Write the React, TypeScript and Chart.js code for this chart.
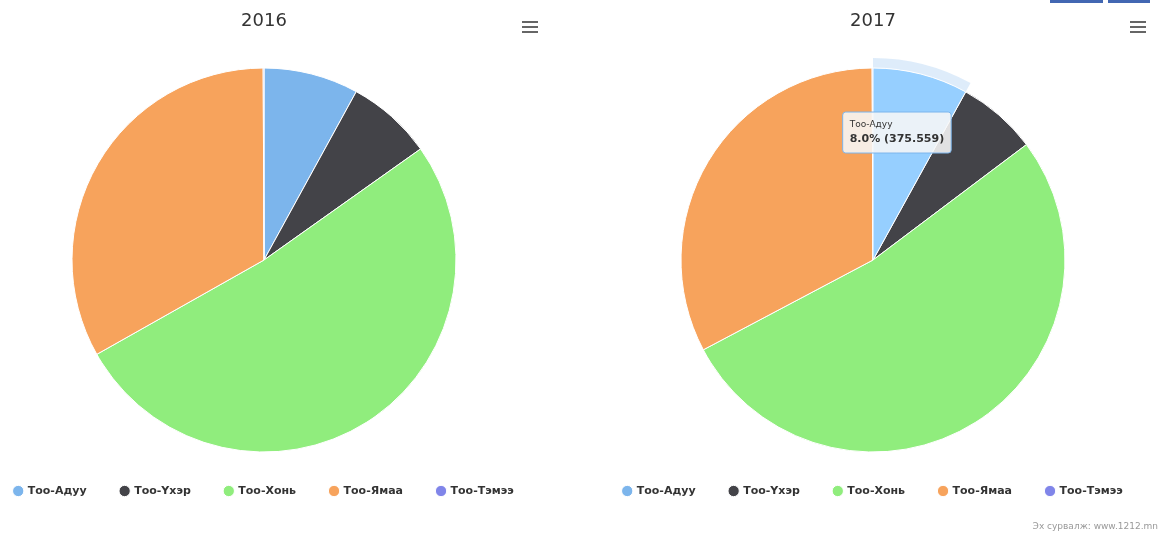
import React, { useEffect, useRef } from "react";
import { Chart, registerables } from "chart.js";

Chart.register(...registerables);

const categories = ["Тоо-Адуу", "Тоо-Үхэр", "Тоо-Хонь", "Тоо-Ямаа", "Тоо-Тэмээ"];
const values2016 = [360.2, 325.1, 2331.4, 1494.6, 3.1];
const values2017 = [375.559, 314.6, 2459.5, 1530.3, 3.4];
const years = ["2016", "2017"];
const colors = ["#7cb5ec", "#434348", "#90ed7d", "#f7a35c", "#8085e9"];
const hoverColors = ["#96cfff", "#5d5d62", "#aaff97", "#ffbd76", "#9a9fff"];
const creditText = "Эх сурвалж: www.1212.mn";

const FONT = "'DejaVu Sans', 'Liberation Sans', sans-serif";
const CW = 580;

const haloPlugin = {
  id: "halo",
  beforeDatasetsDraw(chart: any) {
    const active = chart.getActiveElements();
    if (!active || !active.length) return;
    const ctx = chart.ctx;
    active.forEach((a: any) => {
      const el = a.element;
      const p = el.getProps(["x", "y", "startAngle", "endAngle", "outerRadius"], true);
      ctx.save();
      ctx.beginPath();
      ctx.arc(p.x, p.y, p.outerRadius + 10, p.startAngle, p.endAngle);
      ctx.arc(p.x, p.y, p.outerRadius, p.endAngle, p.startAngle, true);
      ctx.closePath();
      ctx.fillStyle = "rgba(124,181,236,0.25)";
      ctx.fill();
      ctx.restore();
    });
  },
};

function PieChart({ title, values, showTooltip }: { title: string; values: number[]; showTooltip: boolean }) {
  const ref = useRef<HTMLCanvasElement | null>(null);
  useEffect(() => {
    if (!ref.current) return;
    const total = values.reduce((a, b) => a + b, 0);
    const chart = new Chart(ref.current, {
      type: "pie",
      data: {
        labels: categories,
        datasets: [
          {
            data: values,
            backgroundColor: colors,
            hoverBackgroundColor: hoverColors,
            borderColor: "#ffffff",
            hoverBorderColor: "#ffffff",
            borderWidth: 1,
            hoverOffset: 0,
            radius: 192,
          } as any,
        ],
      },
      options: {
        responsive: false,
        maintainAspectRatio: false,
        animation: false,
        devicePixelRatio: 1,
        events: [],
        layout: { padding: { top: 0, bottom: 31.5, left: 0, right: 0 } },
        plugins: {
          title: {
            display: true,
            text: title,
            color: "#333333",
            font: { family: FONT, size: 18, weight: "normal" },
            padding: { top: 10.7, bottom: 36.2 },
          },
          legend: {
            position: "bottom",
            labels: {
              usePointStyle: true,
              pointStyle: "circle",
              boxWidth: 8,
              boxHeight: 8,
              padding: 34,
              color: "#333333",
              font: { family: FONT, size: 11, weight: "bold" },
            },
          },
          tooltip: {
            enabled: showTooltip,
            backgroundColor: "rgba(247,247,247,0.88)",
            borderColor: "#7cb5ec",
            borderWidth: 1,
            cornerRadius: 3,
            caretSize: 0,
            caretPadding: 14,
            yAlign: "bottom",
            xAlign: "center",
            displayColors: false,
            padding: { top: 7, bottom: 7, left: 7, right: 7 },
            titleColor: "#333333",
            titleFont: { family: FONT, size: 9, weight: "normal" },
            titleMarginBottom: 3,
            bodyColor: "#333333",
            bodyFont: { family: FONT, size: 11, weight: "bold" },
            callbacks: {
              title: (items: any[]) => (items.length ? items[0].label : ""),
              label: (item: any) => {
                const v = item.raw as number;
                return `${((v / total) * 100).toFixed(1)}% (${v.toFixed(3)})`;
              },
            },
          },
        },
      } as any,
      plugins: [haloPlugin],
    });
    if (showTooltip) {
      const act = [{ datasetIndex: 0, index: 0 }];
      chart.setActiveElements(act);
      const el: any = chart.getDatasetMeta(0).data[0];
      const pos = el.tooltipPosition();
      chart.tooltip!.setActiveElements(act, { x: pos.x, y: pos.y });
      chart.update();
    }
    return () => chart.destroy();
  }, [title, values, showTooltip]);
  return <canvas ref={ref} width={CW} height={538} style={{ display: "block", width: CW, height: 538 }} />;
}

function MenuIcon({ left, top }: { left: number; top: number }) {
  const bar = (t: number) => (
    <div style={{ position: "absolute", left: 0, top: t, width: 16, height: 2, background: "#666666" }} />
  );
  return (
    <div style={{ position: "absolute", left, top, width: 16, height: 12 }}>
      {bar(0)}
      {bar(5)}
      {bar(10)}
    </div>
  );
}

export default function App() {
  return (
    <div
      style={{
        position: "absolute",
        left: 0,
        top: 0,
        width: 1161,
        height: 538,
        background: "#ffffff",
        overflow: "hidden",
      }}
    >
      <div style={{ position: "absolute", left: 264 - CW / 2, top: 0 }}>
        <PieChart title={years[0]} values={values2016} showTooltip={false} />
      </div>
      <div style={{ position: "absolute", left: 873 - CW / 2, top: 0 }}>
        <PieChart title={years[1]} values={values2017} showTooltip={true} />
      </div>
      <MenuIcon left={522} top={21} />
      <MenuIcon left={1130} top={21} />
      <div style={{ position: "absolute", left: 1050, top: 0, width: 53, height: 3, background: "#4267b2" }} />
      <div style={{ position: "absolute", left: 1108, top: 0, width: 42, height: 3, background: "#4267b2" }} />
      <div
        style={{
          position: "absolute",
          right: 3,
          top: 521,
          fontFamily: FONT,
          fontSize: 9,
          color: "#999999",
          whiteSpace: "nowrap",
        }}
      >
        {creditText}
      </div>
    </div>
  );
}
